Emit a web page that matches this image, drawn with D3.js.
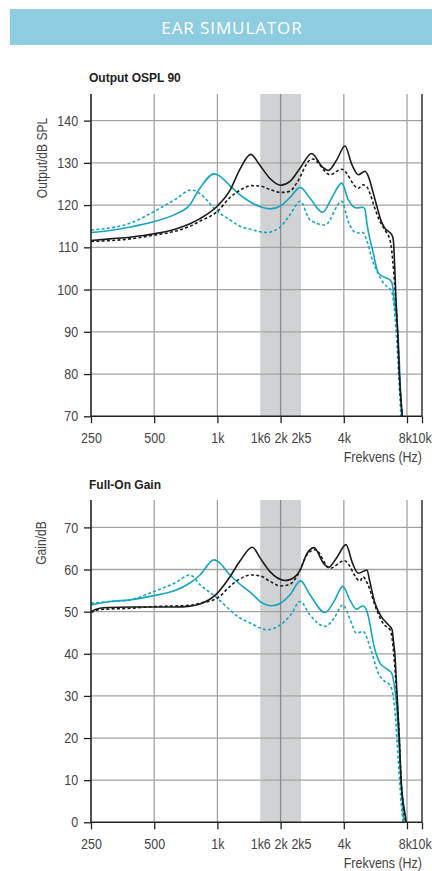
<!DOCTYPE html>
<html>
<head>
<meta charset="utf-8">
<script src="https://cdn.jsdelivr.net/npm/d3@7"></script>
<style>
  body { margin: 0; background: #fff; }
  text { font-family: "Liberation Sans", Roboto, sans-serif; }
</style>
</head>
<body>
<script>
// frequency axis
var freqTicks = [250, 500, 1000, 2000, 4000, 8000, 10000];
var freqTickLabels = ["250", "500", "1k", "2k", "4k", "8k", "10k"];
var bandTicks = [1600, 2500];
var bandTickLabels = ["1k6", "2k5"];
var gridFreqs = [500, 1000, 2000, 4000, 8000];
var bandRange = [1600, 2500];

var osplTicks = [70, 80, 90, 100, 110, 120, 130, 140];
var gainTicks = [0, 10, 20, 30, 40, 50, 60, 70];

// Output OSPL 90
var osplBlackFreq = [250, 308, 383, 500, 628, 740, 826, 1000, 1148, 1281, 1440, 1600, 1780, 2000, 2217, 2481, 2813, 3150, 3376, 3700, 4053, 4376, 4690, 5046, 5235, 5528, 5840, 5996, 6285, 6765, 6883, 7000, 7092, 7226, 7353, 7600, 7800];
var osplBlackDb   = [111.6, 112.0, 112.4, 113.2, 114.3, 115.6, 116.8, 119.8, 123.5, 128.5, 132.0, 129.3, 126.3, 124.7, 125.6, 128.8, 132.2, 129.1, 128.2, 130.7, 134.0, 129.5, 127.2, 128.0, 126.8, 122.8, 118.5, 116.5, 114.5, 113.0, 111.8, 104.7, 97.6, 89.7, 80.2, 70, 64];

var osplBlackDashFreq = [250, 383, 500, 628, 740, 826, 1000, 1148, 1281, 1450, 1600, 1780, 2000, 2217, 2386, 2761, 2850, 3438, 3910, 4690, 4938, 5160, 5350, 5600, 5900, 6400, 6635, 6840, 7000, 7226, 7353, 7600, 7800];
var osplBlackDashDb   = [111.4, 112.0, 112.9, 113.8, 115.0, 116.2, 118.5, 121.8, 123.5, 124.6, 124.5, 123.7, 123.0, 123.3, 125.2, 130.7, 130.9, 127.2, 128.5, 124.0, 124.8, 124.3, 122.5, 119.5, 116.5, 113.4, 111.8, 107.0, 100.7, 89.5, 80.0, 70, 64];

var osplCyanFreq = [250, 308, 383, 500, 628, 740, 826, 963, 1000, 1148, 1281, 1450, 1600, 1780, 2000, 2217, 2481, 2761, 3173, 3500, 3910, 4200, 4600, 4938, 5046, 5160, 5528, 5840, 6200, 6635, 6795, 6950, 7271, 7548, 7800];
var osplCyanDb   = [113.5, 114.0, 114.8, 116.1, 117.8, 120.1, 124.0, 127.4, 127.2, 124.6, 122.4, 120.6, 119.6, 119.1, 119.8, 121.8, 124.2, 121.6, 118.3, 121.6, 125.2, 121.3, 119.3, 119.5, 119.0, 115.5, 108.6, 103.9, 103.0, 102.3, 101.5, 97.6, 88.1, 70, 62];

var osplCyanDashFreq = [250, 383, 500, 628, 754, 826, 1000, 1148, 1281, 1450, 1717, 2000, 2217, 2481, 2761, 3255, 3910, 4200, 4600, 4938, 5160, 5432, 5800, 6190, 6765, 6883, 7144, 7495, 7800];
var osplCyanDashDb   = [114.1, 115.7, 118.5, 121.3, 123.6, 122.7, 118.5, 116.5, 115.0, 114.2, 113.5, 114.9, 117.7, 120.9, 116.5, 115.3, 120.9, 116.1, 113.4, 113.5, 111.5, 107.5, 104.0, 101.5, 99.5, 97.6, 88.1, 70, 62];

// Full-On Gain
var gainBlackFreq = [250, 275, 308, 383, 500, 628, 740, 826, 1000, 1148, 1281, 1466, 1600, 1780, 2099, 2217, 2481, 2650, 2885, 3200, 3376, 3700, 4098, 4400, 4690, 5160, 5300, 5633, 6000, 6401, 6796, 6883, 7000, 7179, 7353, 7500, 7925, 8100];
var gainBlackDb   = [50.0, 50.8, 51.0, 51.1, 51.1, 51.1, 51.3, 51.8, 54.4, 58.3, 62.0, 65.3, 62.7, 59.5, 57.4, 57.6, 59.9, 63.5, 65.2, 61.5, 60.5, 62.8, 65.9, 61.5, 59.1, 59.9, 57.5, 52.0, 49.0, 47.3, 45.7, 43.3, 40, 30, 20, 10, 0, -4];

var gainBlackDashFreq = [250, 275, 383, 500, 740, 826, 1000, 1148, 1281, 1450, 1600, 1780, 2000, 2217, 2386, 2710, 2921, 3438, 4025, 4778, 4938, 5200, 5736, 6200, 6635, 6800, 6920, 7150, 7353, 7500, 7880, 8100];
var gainBlackDashDb   = [49.8, 50.5, 50.8, 51.2, 51.5, 52.0, 53.2, 56.0, 57.8, 58.7, 58.5, 57.2, 56.1, 56.5, 58.3, 63.9, 64.7, 60.3, 62.1, 57.3, 58.3, 56.5, 50.4, 47.0, 45.7, 43.5, 40, 30, 20, 10, 0, -4];

var gainCyanFreq = [250, 308, 383, 500, 628, 740, 826, 963, 1000, 1148, 1281, 1450, 1600, 1810, 2000, 2217, 2490, 2761, 3255, 3600, 3955, 4300, 4593, 4938, 5160, 5633, 5951, 6500, 6760, 7070, 7742, 8000];
var gainCyanDb   = [51.6, 52.4, 52.8, 53.8, 55.0, 56.8, 58.7, 62.3, 62.0, 58.7, 56.5, 54.4, 52.4, 51.4, 52.0, 54.0, 57.3, 54.0, 49.8, 52.5, 56.0, 52.5, 50.6, 51.4, 50.0, 40.9, 37.8, 36.2, 35.4, 29.8, 0, -4];

var gainCyanDashFreq = [250, 308, 383, 500, 628, 740, 826, 1000, 1148, 1281, 1450, 1600, 1717, 2000, 2217, 2481, 2761, 3255, 3600, 3955, 4300, 4593, 4938, 5390, 5840, 6285, 6635, 6883, 7666, 8000];
var gainCyanDashDb   = [52.0, 52.4, 52.8, 54.8, 56.8, 58.7, 56.4, 53.2, 50.4, 48.5, 47.2, 46.1, 45.7, 46.9, 49.0, 52.4, 49.2, 46.5, 48.5, 51.6, 48.0, 44.9, 45.3, 40.9, 35.4, 33.4, 32.6, 29.8, 0, -4];

var BLACK = "#1b1b1b";
var CYAN = "#14a6c3";
var GRID = "#a3a3a3";
var NARROW = "scale(0.86,1)";   // no condensed font installed, squeeze instead

var svg = d3.select("body").append("svg")
    .attr("width", 432)
    .attr("height", 871);

// header bar
svg.append("rect")
    .attr("x", 10).attr("y", 9)
    .attr("width", 422).attr("height", 36)
    .attr("fill", "#8ecddf");
svg.append("text")
    .attr("x", 232).attr("y", 33.5)
    .attr("text-anchor", "middle")
    .attr("fill", "#fff")
    .style("font-family", "'Open Sans', Lato, sans-serif")
    .style("font-size", "17px")
    .style("letter-spacing", "0.9px")
    .text("EAR SIMULATOR");

function zip(f, v) {
    return f.map(function(d, i) { return [d, v[i]]; });
}

function drawPanel(p) {
    var left = 91, right = 422;
    var x = d3.scaleLog().domain([250, 8000, 10000]).range([left, 407, right]);
    var y = d3.scaleLinear().domain(p.yDomain).range([p.bottom, p.top]);

    var g = svg.append("g");

    g.append("clipPath").attr("id", p.id + "-clip")
        .append("rect")
        .attr("x", left).attr("y", p.top)
        .attr("width", right - left).attr("height", p.bottom - p.top);

    // title
    g.append("text")
        .attr("x", 89).attr("y", p.titleY)
        .attr("fill", "#222")
        .style("font-weight", "bold")
        .style("font-size", "12px")
        .text(p.title);

    // shaded 1k6-2k5 band
    g.append("rect")
        .attr("x", x(bandRange[0]))
        .attr("y", p.top)
        .attr("width", x(bandRange[1]) - x(bandRange[0]))
        .attr("height", p.bottom - p.top)
        .attr("fill", "#d1d2d4");

    // grid
    g.append("g").selectAll("line")
        .data(p.yTicks.slice(1))
        .enter().append("line")
        .attr("x1", left).attr("x2", right)
        .attr("y1", function(d) { return y(d); })
        .attr("y2", function(d) { return y(d); })
        .attr("stroke", GRID)
        .attr("stroke-width", 1.3);
    g.append("g").selectAll("line")
        .data(gridFreqs)
        .enter().append("line")
        .attr("x1", function(d) { return x(d); })
        .attr("x2", function(d) { return x(d); })
        .attr("y1", p.top).attr("y2", p.bottom)
        .attr("stroke", function(d) { return d == 2000 ? "#8a8a8a" : GRID; })
        .attr("stroke-width", 1.3);

    // curves
    var line = d3.line()
        .x(function(d) { return x(d[0]); })
        .y(function(d) { return y(d[1]); })
        .curve(d3.curveMonotoneX);

    var curves = g.append("g").attr("clip-path", "url(#" + p.id + "-clip)");
    p.series.forEach(function(s) {
        curves.append("path")
            .datum(zip(s.f, s.v))
            .attr("d", line)
            .attr("fill", "none")
            .attr("stroke", s.color)
            .attr("stroke-width", 1.6)
            .attr("stroke-dasharray", s.dash ? "3,2.3" : null);
    });

    // axes
    var yAxis = d3.axisLeft(y).tickValues(p.yTicks).tickSize(7).tickSizeOuter(0).tickPadding(8);
    var yg = g.append("g").attr("transform", "translate(" + left + ",0)").call(yAxis);
    yg.select(".domain").remove();

    var xAxis = d3.axisBottom(x).tickValues(freqTicks).tickSize(7).tickSizeOuter(0).tickPadding(9)
        .tickFormat(function(d, i) { return freqTickLabels[i]; });
    var xg = g.append("g").attr("transform", "translate(0," + p.bottom + ")").call(xAxis);
    xg.select(".domain").remove();
    // 8k and 10k crowd each other at the frame edge
    xg.selectAll(".tick text").filter(function(d) { return d == 8000; }).attr("x", -2.5);
    xg.selectAll(".tick text").filter(function(d) { return d == 10000; }).attr("x", -1);

    var bandAxis = d3.axisBottom(x).tickValues(bandTicks).tickSize(0).tickPadding(16)
        .tickFormat(function(d, i) { return bandTickLabels[i]; });
    var bg = g.append("g").attr("transform", "translate(0," + p.bottom + ")").call(bandAxis);
    bg.select(".domain").remove();

    g.selectAll(".tick line").attr("stroke", "#222").attr("stroke-width", 1.3);
    g.selectAll(".tick text")
        .attr("fill", "#444")
        .attr("transform", NARROW)
        .style("font-family", "'Liberation Sans', Arial, sans-serif")
        .style("font-size", "14.5px");

    // frame lines
    g.append("line").attr("x1", left).attr("x2", left).attr("y1", p.top).attr("y2", p.bottom + 0.5)
        .attr("stroke", "#222").attr("stroke-width", 1.6);
    g.append("line").attr("x1", right).attr("x2", right).attr("y1", p.top).attr("y2", p.bottom)
        .attr("stroke", "#222").attr("stroke-width", 1.4);
    g.append("line").attr("x1", left).attr("x2", right).attr("y1", p.bottom).attr("y2", p.bottom)
        .attr("stroke", "#222").attr("stroke-width", 1.6);

    // labels
    g.append("text")
        .attr("transform", "translate(" + p.yLabelX + "," + p.yLabelY + ") rotate(-90) " + NARROW)
        .attr("text-anchor", "middle")
        .attr("fill", "#444")
        .style("font-size", "14px")
        .text(p.yLabel);
    g.append("text")
        .attr("transform", "translate(" + right + "," + (p.bottom + 46) + ") " + NARROW)
        .attr("text-anchor", "end")
        .attr("fill", "#444")
        .style("font-size", "14.5px")
        .text("Frekvens (Hz)");
}

drawPanel({
    id: "ospl",
    title: "Output OSPL 90",
    titleY: 82,
    top: 94, bottom: 416.3,
    yDomain: [70, 146.3],
    yTicks: osplTicks,
    yLabel: "Output/dB SPL",
    yLabelX: 47, yLabelY: 158,
    series: [
        {f: osplCyanDashFreq, v: osplCyanDashDb, color: CYAN, dash: true},
        {f: osplCyanFreq, v: osplCyanDb, color: CYAN, dash: false},
        {f: osplBlackDashFreq, v: osplBlackDashDb, color: BLACK, dash: true},
        {f: osplBlackFreq, v: osplBlackDb, color: BLACK, dash: false}
    ]
});

drawPanel({
    id: "gain",
    title: "Full-On Gain",
    titleY: 489,
    top: 500, bottom: 822.3,
    yDomain: [0, 76.5],
    yTicks: gainTicks,
    yLabel: "Gain/dB",
    yLabelX: 46, yLabelY: 543,
    series: [
        {f: gainCyanDashFreq, v: gainCyanDashDb, color: CYAN, dash: true},
        {f: gainCyanFreq, v: gainCyanDb, color: CYAN, dash: false},
        {f: gainBlackDashFreq, v: gainBlackDashDb, color: BLACK, dash: true},
        {f: gainBlackFreq, v: gainBlackDb, color: BLACK, dash: false}
    ]
});
</script>
</body>
</html>
